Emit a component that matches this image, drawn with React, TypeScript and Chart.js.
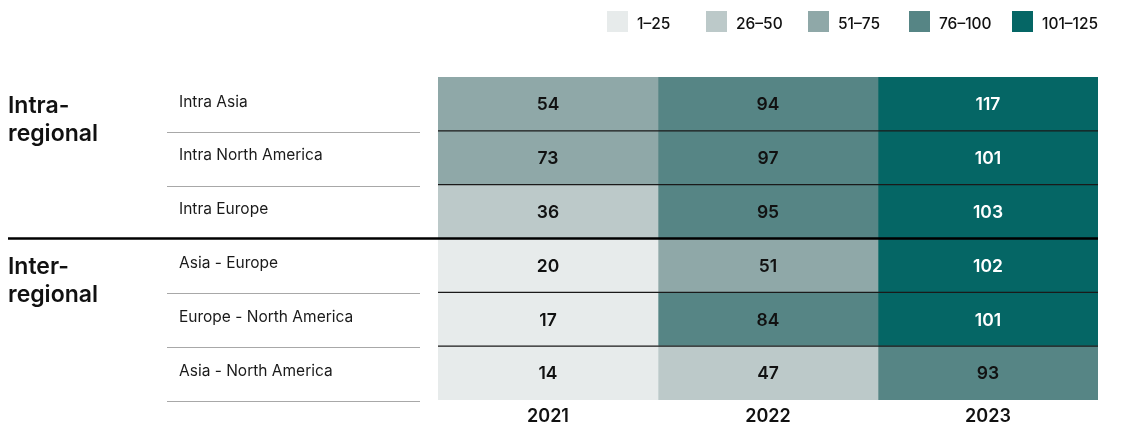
import React, { useEffect, useRef } from "react";
import { Chart, registerables } from "chart.js";

Chart.register(...registerables);

const rowLabels = [
  "Intra Asia",
  "Intra North America",
  "Intra Europe",
  "Asia - Europe",
  "Europe - North America",
  "Asia - North America",
];
const groupLabels = [
  { lines: ["Intra-", "regional"], firstRow: 0 },
  { lines: ["Inter-", "regional"], firstRow: 3 },
];
const years = ["2021", "2022", "2023"];
const values2021 = [54, 73, 36, 20, 17, 14];
const values2022 = [94, 97, 95, 51, 84, 47];
const values2023 = [117, 101, 103, 102, 101, 93];
const binLabels = ["1–25", "26–50", "51–75", "76–100", "101–125"];
const binMax = [25, 50, 75, 100, 125];
const binColors = ["#e7ebeb", "#bcc9c9", "#8fa8a8", "#568585", "#056665"];
const binText = ["#111111", "#111111", "#111111", "#111111", "#ffffff"];

const yearValues = [values2021, values2022, values2023];
const binOf = (v: number) => {
  for (let i = 0; i < binMax.length; i++) if (v <= binMax[i]) return i;
  return binMax.length - 1;
};

const FONT = "Inter, 'Noto Sans', sans-serif";

const overlay = {
  id: "heatOverlay",
  afterDatasetsDraw(chart: any) {
    const { ctx, chartArea, scales } = chart;
    const xs = scales.x;
    const ys = scales.y;
    const rowH = (chartArea.bottom - chartArea.top) / rowLabels.length;
    ctx.save();
    // cell values
    ctx.textAlign = "center";
    ctx.textBaseline = "middle";
    ctx.font = `600 17.5px ${FONT}`;
    yearValues.forEach((vals, j) => {
      const cx = xs.getPixelForValue(j + 0.5);
      vals.forEach((v, i) => {
        const cy = ys.getPixelForValue(i);
        ctx.fillStyle = binText[binOf(v)];
        ctx.fillText(String(v), cx, cy + 1);
      });
    });
    // row separators
    for (let i = 0; i < rowLabels.length; i++) {
      const yb = ys.getPixelForValue(i) + rowH / 2;
      if (i === 2) {
        ctx.strokeStyle = "#000000";
        ctx.lineWidth = 2.5;
        ctx.beginPath();
        ctx.moveTo(0, yb);
        ctx.lineTo(chartArea.right, yb);
        ctx.stroke();
        continue;
      }
      if (i < rowLabels.length - 1) {
        ctx.strokeStyle = "#1a1a1a";
        ctx.lineWidth = 1.2;
        ctx.beginPath();
        ctx.moveTo(chartArea.left, yb);
        ctx.lineTo(chartArea.right, yb);
        ctx.stroke();
      }
      ctx.strokeStyle = "#a8a8a8";
      ctx.lineWidth = 1;
      ctx.beginPath();
      ctx.moveTo(159, Math.round(yb + 1) + 0.5);
      ctx.lineTo(412, Math.round(yb + 1) + 0.5);
      ctx.stroke();
    }
    // row labels
    ctx.textAlign = "left";
    ctx.fillStyle = "#1a1a1a";
    ctx.font = `400 15.5px ${FONT}`;
    rowLabels.forEach((lab, i) => {
      ctx.fillText(lab, 171, ys.getPixelForValue(i) - 2);
    });
    // group labels
    ctx.font = `600 23px ${FONT}`;
    ctx.fillStyle = "#111111";
    groupLabels.forEach((g) => {
      const top = ys.getPixelForValue(g.firstRow) - rowH / 2;
      g.lines.forEach((ln, k) => {
        ctx.fillText(ln, 0, top + 29 + k * 28);
      });
    });
    // year labels
    ctx.textAlign = "center";
    ctx.font = `600 18px ${FONT}`;
    years.forEach((yr, j) => {
      ctx.fillText(yr, xs.getPixelForValue(j + 0.5), chartArea.bottom + 17);
    });
    // legend
    const legendX = [599, 698, 800, 901, 1004];
    ctx.textAlign = "left";
    ctx.font = `500 15.5px ${FONT}`;
    binLabels.forEach((lab, k) => {
      ctx.fillStyle = binColors[k];
      ctx.fillRect(legendX[k], 11, 21, 21);
      ctx.fillStyle = "#111111";
      ctx.fillText(lab, legendX[k] + 30, 24);
    });
    ctx.restore();
  },
};

export default function App() {
  const ref = useRef<HTMLCanvasElement | null>(null);
  useEffect(() => {
    if (!ref.current) return;
    const datasets = years.map((yr, j) => ({
      label: yr,
      data: yearValues[j].map(() => 1),
      backgroundColor: yearValues[j].map((v) => binColors[binOf(v)]),
      borderWidth: 0,
      categoryPercentage: 1,
      barPercentage: 1,
    }));
    const chart = new Chart(ref.current, {
      type: "bar",
      data: { labels: rowLabels, datasets },
      options: {
        indexAxis: "y",
        animation: false,
        responsive: true,
        maintainAspectRatio: false,
        layout: { padding: { left: 430, right: 17, top: 77, bottom: 33 } },
        plugins: { legend: { display: false }, tooltip: { enabled: false } },
        scales: {
          x: { stacked: true, min: 0, max: 3, display: false },
          y: { stacked: true, display: false },
        },
      },
      plugins: [overlay],
    });
    return () => chart.destroy();
  }, []);
  return (
    <div style={{ position: "relative", width: 1107, height: 433, marginTop: -8, marginBottom: -8 }}>
      <canvas ref={ref} />
    </div>
  );
}
